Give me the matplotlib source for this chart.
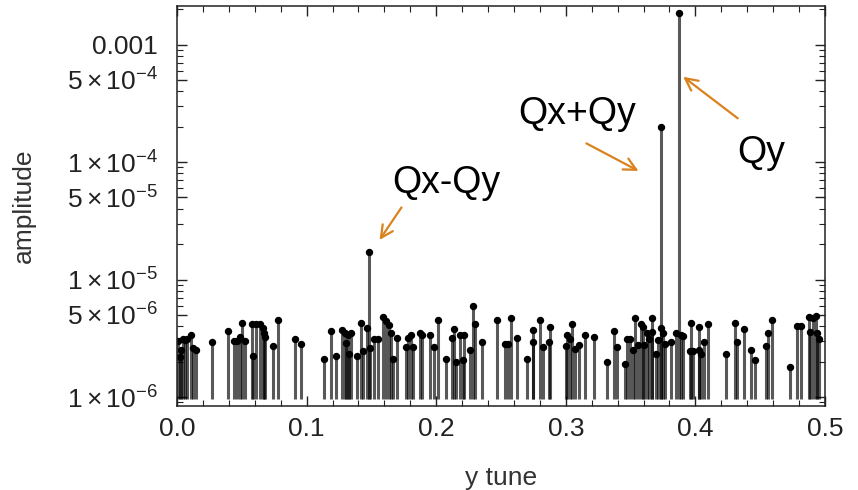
import matplotlib
matplotlib.use("Agg")
import matplotlib.pyplot as plt
from matplotlib.ticker import FixedLocator, MultipleLocator
import numpy as np

plt.rcParams['font.family'] = ['Liberation Sans', 'DejaVu Sans']
plt.rcParams['mathtext.fontset'] = 'custom'
plt.rcParams['mathtext.rm'] = 'Liberation Sans'
plt.rcParams['mathtext.it'] = 'Liberation Sans:italic'
plt.rcParams['mathtext.bf'] = 'Liberation Sans:bold'

# background lines of the spectrum
noise_tune = [
    0.0010, 0.0020, 0.0030, 0.0045, 0.0060, 0.0075, 0.0108, 0.0121, 0.0146, 0.0269,
    0.0397, 0.0436, 0.0464, 0.0487, 0.0505, 0.0526, 0.0582, 0.0587, 0.0608, 0.0641,
    0.0662, 0.0674, 0.0679, 0.0744, 0.0777,
    0.0908, 0.0959, 0.1133, 0.1185, 0.1228, 0.1274, 0.1297, 0.1305, 0.1323, 0.1331,
    0.1346, 0.1387, 0.1421, 0.1433, 0.1467, 0.1490, 0.1518, 0.1551, 0.1592, 0.1613, 0.1638,
    0.1655, 0.1669, 0.1695, 0.1764, 0.1785, 0.1808, 0.1823, 0.1872, 0.1892, 0.1949,
    0.1982, 0.2013, 0.2077, 0.2123, 0.2141, 0.2154, 0.2187, 0.2208, 0.2213, 0.2264,
    0.2285, 0.2303, 0.2354, 0.2469,
    0.2531, 0.2551, 0.2574, 0.2621, 0.2703, 0.2745, 0.2749, 0.2800, 0.2821, 0.2872,
    0.2877, 0.3000, 0.3013, 0.3031, 0.3051, 0.3069, 0.3103, 0.3151, 0.3215, 0.3318,
    0.3374, 0.3392, 0.3456, 0.3469, 0.3497, 0.3521, 0.3533, 0.3554, 0.3579, 0.3592,
    0.3605, 0.3626, 0.3644, 0.3662, 0.3669, 0.3695, 0.3708, 0.3733, 0.3754, 0.3767,
    0.3810, 0.3854, 0.3887, 0.3905, 0.3960, 0.3964, 0.3985, 0.4025, 0.4028, 0.4046,
    0.4067, 0.4097,
    0.4238, 0.4303, 0.4321, 0.4372, 0.4431, 0.4462, 0.4546, 0.4564, 0.4590, 0.4731,
    0.4787, 0.4813, 0.4877, 0.4885, 0.4910, 0.4931, 0.4941, 0.4956,
]
noise_amp = np.array([
    3.0, 2.2, 2.5, 3.1, 3.05, 3.1, 3.4, 2.6, 2.5, 2.95,
    3.65, 3.0, 3.0, 3.25, 4.3, 3.0, 4.2, 2.25, 4.15, 4.2,
    3.85, 3.5, 3.25, 2.7, 4.5,
    3.1, 2.85, 2.13, 3.65, 2.25, 3.75, 3.5, 2.9, 3.4, 2.35,
    3.5, 2.25, 4.3, 2.45, 3.9, 2.6, 3.1, 3.1, 4.8, 4.4, 4.1,
    3.5, 2.13, 3.2, 2.68, 3.2, 3.35, 2.68, 3.5, 3.4, 3.35,
    2.68, 4.5, 2.13, 3.2, 3.8, 2.0, 3.4, 2.05, 3.4, 2.5,
    5.95, 4.2, 2.95, 4.5,
    2.85, 2.85, 4.7, 3.2, 2.13, 2.95, 3.75, 4.5, 2.65, 2.95,
    3.97, 2.7, 3.35, 3.15, 4.2, 2.55, 2.75, 3.4, 3.26, 2.0,
    3.65, 2.65, 1.9, 3.1, 3.1, 2.5, 4.7, 2.75, 4.2, 3.97,
    2.75, 3.48, 3.15, 4.7, 3.6, 2.35, 3.05, 3.9, 3.48, 2.85,
    2.95, 3.48, 3.35, 3.3, 2.45, 4.3, 2.45, 2.5, 3.97, 2.35,
    2.95, 4.2,
    2.35, 4.3, 2.95, 3.8, 2.5, 2.05, 2.7, 3.48, 4.5, 1.82,
    4.0, 4.0, 4.8, 3.6, 4.7, 4.9, 3.5, 3.15,
]) * 1e-6

# resonance lines: Qx-Qy, Qx+Qy, Qy
peak_names = ['Qx-Qy', 'Qx+Qy', 'Qy']
peak_tune = [0.1485, 0.3735, 0.3875]
peak_amp = [1.72e-5, 2.0e-4, 1.85e-3]

ytick_vals = [1e-6, 5e-6, 1e-5, 5e-5, 1e-4, 5e-4, 1e-3]
ytick_text = [r'$1\times10^{-6}$', r'$5\times10^{-6}$', r'$1\times10^{-5}$',
              r'$5\times10^{-5}$', r'$1\times10^{-4}$', r'$5\times10^{-4}$', '0.001']

tune = np.concatenate([noise_tune, peak_tune])
amp = np.concatenate([noise_amp, peak_amp])
base = 9.6e-7

fig = plt.figure(figsize=(8.58, 4.90), dpi=100)
ax = fig.add_axes([0.2063, 0.1714, 0.7552, 0.8164])

ax.vlines(tune, base, amp, color='black', alpha=0.65, lw=2.2)
ax.plot(tune, amp, 'o', color='black', ms=4.3, mec='black')

ax.set_yscale('log')
ax.set_xlim(0, 0.5)
ax.set_ylim(8.4e-7, 2.13e-3)

ax.set_xticks(np.arange(0, 0.51, 0.1))
ax.set_xticklabels([f'{v:.1f}' for v in np.arange(0, 0.51, 0.1)])
ax.xaxis.set_minor_locator(MultipleLocator(0.02))

minors = []
for e in range(-7, -2):
    for m in [2, 3, 4, 6, 7, 8, 9]:
        minors.append(m * 10.0 ** e)
ax.yaxis.set_major_locator(FixedLocator(ytick_vals))
ax.yaxis.set_minor_locator(FixedLocator(minors))
ax.set_yticklabels(ytick_text)

ax.tick_params(which='both', direction='in', top=True, right=True,
               labelsize=19, colors='#222222')
ax.tick_params(axis='x', pad=8)
ax.tick_params(axis='y', pad=14)
ax.tick_params(which='major', length=7, width=1)
ax.tick_params(which='minor', length=4, width=0.8)
for s in ax.spines.values():
    s.set_color('#222222')
    s.set_linewidth(1.1)

ax.set_xlabel('y tune', fontsize=19, color='#333333', labelpad=18)
ax.set_ylabel('amplitude', fontsize=19, color='#333333', labelpad=22)

orange = '#D9821E'
arr = dict(arrowstyle='->', color=orange, lw=1.6, mutation_scale=22)
ax.annotate('', xy=(0.1551, 2.08e-5), xytext=(0.1744, 4.3e-5), arrowprops=arr)
ax.annotate('', xy=(0.358, 8.2e-5), xytext=(0.314, 1.48e-4), arrowprops=arr)
ax.annotate('', xy=(0.3889, 5.5e-4), xytext=(0.4344, 2.28e-4), arrowprops=arr)

label_pos = [(0.2076, 6.6e-5), (0.3086, 2.55e-4), (0.4506, 1.2e-4)]
for name, (lx, ly) in zip(peak_names, label_pos):
    ax.text(lx, ly, name, fontsize=27, ha='center', va='center', color='black')

fig.savefig('out.png', dpi=100)
